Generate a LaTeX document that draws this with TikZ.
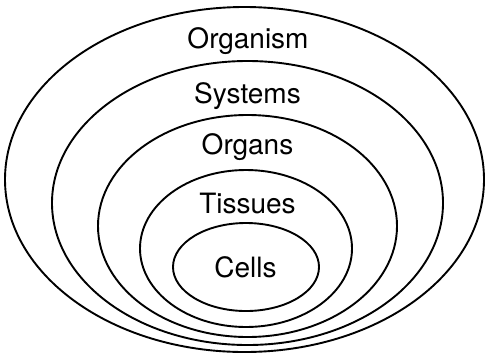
\documentclass[tikz,border=0pt]{standalone}
\usepackage{fontspec}
\setmainfont{TeX Gyre Heros}
\usetikzlibrary{positioning}
\tikzset{
  ring/.style={draw=black,line width=1.9pt},
  lbl/.style={font=\fontsize{28}{30}\selectfont,anchor=base,inner sep=0pt},
}
\begin{document}
\begin{tikzpicture}[x=1pt,y=-1pt]
\useasboundingbox (0,0) rectangle (486,354);
\coordinate (c1) at (244.5,179.5);
\coordinate (c2) at (247.5,203);
\coordinate (c3) at (247.5,226);
\coordinate (c4) at (246,248.5);
\coordinate (c5) at (246,267);
\draw[ring] (c1) ellipse [x radius=239.5, y radius=172.5];
\draw[ring] (c2) ellipse [x radius=195.5, y radius=142];
\draw[ring] (c3) ellipse [x radius=149.5, y radius=111];
\draw[ring] (c4) ellipse [x radius=106, y radius=78.5];
\draw[ring] (c5) ellipse [x radius=73, y radius=44];
\node[lbl] (organism) at (248,48) {Organism};
\node[lbl] (systems) at (247.5,103) {Systems};
\node[lbl] (organs) at (247.5,154) {Organs};
\node[lbl] (tissues) at (247.5,213) {Tissues};
\node[lbl] (cells) at (245.5,277) {Cells};
\end{tikzpicture}
\end{document}
